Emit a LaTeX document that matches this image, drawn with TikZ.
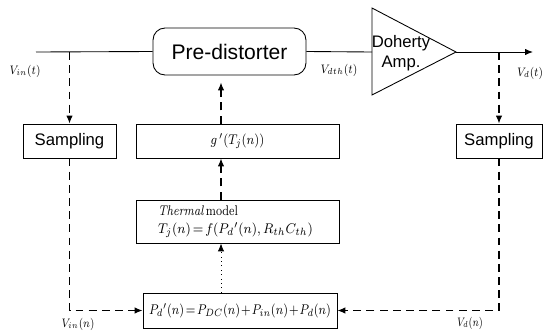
\documentclass[tikz,border=0pt]{standalone}
\usepackage{amsmath}
\usepackage{graphicx}
\usepackage{fontspec}
\usetikzlibrary{arrows.meta}
\newfontfamily\arialfont{Liberation Sans}

% tighter math spacing for the small formulas
\newcommand{\tightmath}{\medmuskip=1.5mu\thickmuskip=2.5mu}
% squeeze a formula to a given width, keeping its height
\newcommand{\fitto}[2]{\resizebox{#1}{\height}{#2}}

\tikzset{
  blk/.style={draw, line width=0.5pt, inner sep=0pt},
  lbl/.style={font=\fontsize{6.6}{7.5}\selectfont, inner sep=0pt},
  eqn/.style={font=\fontsize{8}{10}\selectfont\tightmath},
  sig/.style={line width=0.5pt},
  fbk/.style={line width=0.6pt, dash pattern=on 4.5pt off 3pt},
  tip/.style={-{Latex[length=4.5pt,width=3.6pt]}}
}

\begin{document}
\begin{tikzpicture}[x=0.02cm, y=-0.02cm]

% Canvas
\useasboundingbox (0,0) rectangle (545,335);

% Signal path
\coordinate (in) at (36,52);
\node[blk, rounded corners=0.24cm, minimum width=3.06cm, minimum height=0.94cm,
      font=\arialfont\fontsize{12}{14}\selectfont] (pre) at (229.5,51.5) {Pre-distorter};

% Draw amplifier triangle
\coordinate (ampIn) at (372,52);
\coordinate (ampOut) at (456,52);
\draw[sig] (372,8) -- (372,95) -- (ampOut) -- cycle;
\node[align=center, inner sep=0pt, font=\arialfont\fontsize{9.5}{11.3}\selectfont] (amp) at (401,53) {Doherty\\Amp.};
\coordinate (out) at (533,52);

\draw[sig] (in) -- (pre.west);
\draw[sig] (pre.east) -- (ampIn);
\draw[sig, tip] (ampOut) -- (out);

% Sampling blocks
\node[blk, minimum width=1.86cm, minimum height=0.68cm,
      font=\arialfont\fontsize{9.5}{11}\selectfont] (sampL) at (69.5,141) {Sampling};
\node[blk, minimum width=1.72cm, minimum height=0.68cm,
      font=\arialfont\fontsize{9.5}{11}\selectfont] (sampR) at (499,141) {Sampling};

% Thermal correction chain
\node[blk, eqn, minimum width=4.06cm, minimum height=0.68cm] (gain) at (237.5,141)
      {\fitto{1.08cm}{$g\,'(T_j(n))$}};
\node[blk, eqn, text width=3.18cm, inner xsep=0.44cm, minimum height=0.86cm, align=left] (therm) at (237.5,221.5)
      {\fitto{1.6cm}{\textit{Thermal}\,model}\\\fitto{3.1cm}{$T_j(n)=f(P_d{}'(n),R_{th}C_{th})$}};
\node[blk, eqn, minimum width=3.88cm, minimum height=0.70cm] (pdiss) at (240,310.5)
      {\fitto{3.64cm}{$P_d{}'(n)=P_{DC}(n)+P_{in}(n)+P_d(n)$}};

% Feedback column
\coordinate (fb) at (221,0);
\draw[fbk, tip, shorten >=1.4mm] (gain.north -| fb) -- (pre.south -| fb);
\draw[fbk, tip] (therm.north -| fb) -- (gain.south -| fb);
\draw[sig, dotted, tip] (pdiss.north -| fb) -- (therm.south -| fb);

% Sampled signals
\draw[fbk, tip] (sampL.north |- in) -- (sampL.north);
\draw[fbk, tip] (sampR.north |- out) -- (sampR.north);
\draw[fbk, tip] (sampL.south) |- (pdiss.west);
\draw[fbk, tip] (sampR.south) |- (pdiss.east);

% Signal labels
\node[lbl] (vin) at (25,71) {\fitto{0.62cm}{$V_{in}(t)$}};
\node[lbl] (vdth) at (339,70) {\fitto{0.74cm}{$V_{dth}(t)$}};
\node[lbl] (vd) at (530,73) {\fitto{0.52cm}{$V_d(t)$}};
\node[lbl] (vinn) at (78,324) {\fitto{0.66cm}{$V_{in}(n)$}};
\node[lbl] (vdn) at (470,323) {\fitto{0.52cm}{$V_d(n)$}};

\end{tikzpicture}
\end{document}
